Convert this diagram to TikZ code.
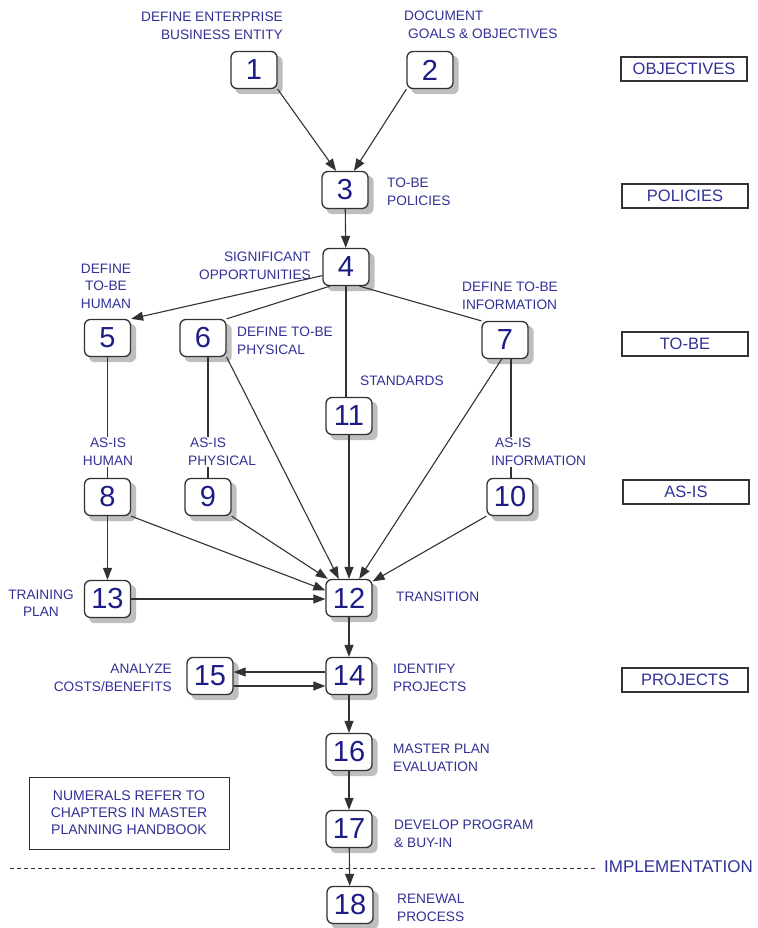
\documentclass[tikz,border=0pt]{standalone}
\usepackage{fontspec}
\setmainfont{Liberation Sans}
\usetikzlibrary{arrows.meta,backgrounds,calc}
\definecolor{lblue}{RGB}{50,50,150}
\definecolor{dnavy}{RGB}{28,28,135}
\definecolor{edge}{RGB}{50,50,50}
\definecolor{shade}{RGB}{190,190,190}
\begin{document}
\begin{tikzpicture}[x=1pt,y=-1pt,
  numbox/.style={draw=edge, line width=1.3pt, rounded corners=6pt, fill=white,
    minimum width=46pt, minimum height=37pt, inner sep=0pt,
    font=\fontsize{29}{29}\selectfont, text=dnavy},
  shadowbox/.style={fill=shade, rounded corners=6pt},
  lbl/.style={font=\fontsize{13.7}{17.5}\selectfont, text=lblue, inner sep=1pt},
  lblw/.style={lbl, fill=white},
  sidebox/.style={draw=edge, line width=1.3pt, fill=white, minimum width=126pt,
    minimum height=24pt, inner sep=0pt, font=\fontsize{16.5}{16.5}\selectfont, text=lblue},
  arr/.style={draw=edge, line width=1.1pt, -{Triangle[length=12pt,width=9pt]}},
  ln/.style={draw=edge, line width=1.1pt}]
\useasboundingbox (0,0) rectangle (757,928);

% numbered boxes
\node[numbox] (n1) at (254,70) {1};
\node[numbox] (n2) at (430,70) {2};
\node[numbox] (n3) at (345,190) {3};
\node[numbox] (n4) at (346,267) {4};
\node[numbox] (n5) at (107.5,338) {5};
\node[numbox] (n6) at (203,338) {6};
\node[numbox] (n7) at (505,340) {7};
\node[numbox] (n11) at (349,416) {11};
\node[numbox] (n8) at (107.5,497) {8};
\node[numbox] (n9) at (208,497) {9};
\node[numbox] (n10) at (510,497) {10};
\node[numbox] (n13) at (107.5,599) {13};
\node[numbox] (n12) at (349,598) {12};
\node[numbox] (n15) at (210,676) {15};
\node[numbox] (n14) at (349,676) {14};
\node[numbox] (n16) at (349,752) {16};
\node[numbox] (n17) at (349,829) {17};
\node[numbox] (n18) at (350,905) {18};

\begin{pgfonlayer}{background}
  \fill[white] (0,0) rectangle (757,928);
  \foreach \n in {n1,n2,n3,n4,n5,n6,n7,n8,n9,n10,n11,n12,n13,n14,n15,n16,n17,n18}
    \fill[shadowbox] ([shift={(5pt,-5pt)}]\n.south west) rectangle ([shift={(5pt,-5pt)}]\n.north east);
\end{pgfonlayer}

% lines running behind the AS-IS labels
\draw[ln] (n5) -- (n8);
\draw[ln] ([xshift=5pt]n6.south) -- ([xshift=5pt]n6.south |- n9.north);
\draw[ln] ([xshift=6pt]n7.south) -- ([xshift=6pt]n7.south |- n10.north);

% labels
\node[lbl, anchor=east, align=right] (l1) at (284,26) {DEFINE ENTERPRISE\\BUSINESS ENTITY};
\node[lbl, anchor=west, align=left] (l2) at (403,25) {DOCUMENT\\\hspace{4pt}GOALS \& OBJECTIVES};
\node[lbl, anchor=west, align=left] (l3) at (386,192) {TO-BE\\POLICIES};
\node[lbl, anchor=east, align=right] (l4) at (312,266) {SIGNIFICANT\\OPPORTUNITIES};
\node[lbl, align=center] (l5) at (106,286) {DEFINE\\TO-BE\\HUMAN};
\node[lbl, anchor=west, align=left] (l6) at (236,341) {DEFINE TO-BE\\PHYSICAL};
\node[lbl, anchor=west, align=left] (l7) at (461,296) {DEFINE TO-BE\\INFORMATION};
\node[lbl, anchor=west] (l11) at (359,381) {STANDARDS};
\node[lblw, align=center] (l8) at (108,452) {AS-IS\\HUMAN};
\node[lblw, anchor=west, align=left] (l9) at (187,452) {\hspace{2pt}AS-IS\\PHYSICAL};
\node[lblw, anchor=west, align=left] (l10) at (490,452) {\hspace{4pt}AS-IS\\INFORMATION};
\node[lbl, align=center] (l13) at (41,603) {TRAINING\\PLAN};
\node[lbl, anchor=west] (l12) at (395,597) {TRANSITION};
\node[lbl, anchor=east, align=right] (l15) at (173,678) {ANALYZE\\COSTS/BENEFITS};
\node[lbl, anchor=west, align=left] (l14) at (392,678) {IDENTIFY\\PROJECTS};
\node[lbl, anchor=west, align=left] (l16) at (392,758) {MASTER PLAN\\EVALUATION};
\node[lbl, anchor=west, align=left] (l17) at (393,834) {DEVELOP PROGRAM\\\& BUY-IN};
\node[lbl, anchor=west, align=left] (l18) at (396,908) {RENEWAL\\PROCESS};

% side boxes
\node[sidebox] (s1) at (684,69) {OBJECTIVES};
\node[sidebox] (s2) at (685,196) {POLICIES};
\node[sidebox] (s3) at (685,344) {TO-BE};
\node[sidebox] (s4) at (686,492) {AS-IS};
\node[sidebox] (s5) at (685,680) {PROJECTS};

% legend
\node[draw=edge, line width=1pt, minimum width=200pt, minimum height=72pt, inner sep=0pt,
  font=\fontsize{14}{17}\selectfont, text=lblue, align=center] (leg) at (129,813)
  {NUMERALS REFER TO\\CHAPTERS IN MASTER\\PLANNING HANDBOOK};

% implementation line
\coordinate (dl) at (10,868);
\coordinate (dr) at (598,868);
\draw[edge, line width=1pt, dash pattern=on 4pt off 3pt] (dl) -- (dr);
\node[anchor=west, font=\fontsize{17}{17}\selectfont, text=lblue, inner sep=0pt] (impl) at (604,867) {IMPLEMENTATION};

% connectors
\draw[arr] (n1.south east) -- (n3.115);
\draw[arr] (n2.south west) -- (n3.65);
\draw[arr] (n3) -- (n4);
\draw[arr] (n4.200) -- (n5.north east);
\draw[ln] (n4.230) -- (n6.north east);
\draw[ln] (n4.south) -- (n4.south |- n11.north);
\draw[ln] (n4.305) -- (n7.north west);
\draw[arr] (n6.south east) -- (n12.118);
\draw[arr] (n11) -- (n12);
\draw[arr] (n7.260) -- (n12.62);
\draw[arr] (n8.south east) -- (n12.162);
\draw[arr] (n9.south east) -- (n12.138);
\draw[arr] (n10.south west) -- (n12.35);
\draw[arr] (n8) -- (n13);
\draw[arr] (n13) -- (n13 -| n12.west);
\draw[arr] (n12) -- (n14);
\draw[arr] ([yshift=4pt]n14.west) -- ([yshift=4pt]n15.east);
\draw[arr] ([yshift=-10pt]n15.east) -- ([yshift=-10pt]n14.west);
\draw[arr] (n14) -- (n16);
\draw[arr] (n16) -- (n17);
\draw[arr] (n17) -- (n18);
\end{tikzpicture}
\end{document}
